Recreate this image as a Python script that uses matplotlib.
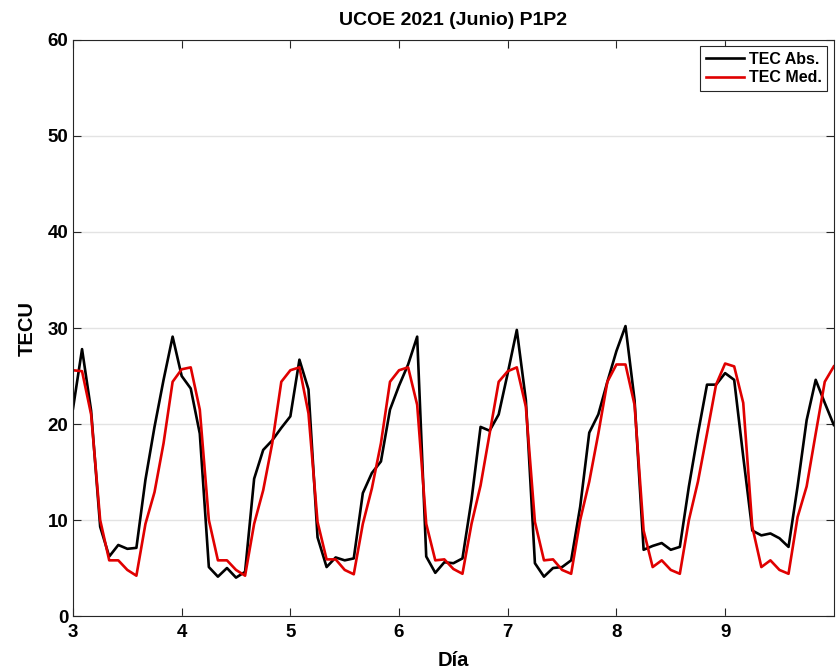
import numpy as np
import matplotlib
matplotlib.use('Agg')
import matplotlib.pyplot as plt

plt.rcParams['font.family'] = ['Liberation Sans', 'DejaVu Sans']
plt.rcParams['font.weight'] = 'bold'

# muestreo cada 2 horas, del día 3 al día 10
dias = np.arange(85) / 12 + 3

tec_abs = [
    21.6, 27.8, 21.4, 9.3, 6.2, 7.4, 7.0, 7.1, 14.2, 19.7, 24.6, 29.1,
    25.0, 23.7, 19.0, 5.1, 4.1, 5.0, 4.0, 4.6, 14.3, 17.3, 18.3, 19.6,
    20.8, 26.7, 23.6, 8.2, 5.1, 6.1, 5.8, 6.0, 12.8, 14.9, 16.1, 21.5,
    24.0, 26.2, 29.1, 6.2, 4.5, 5.6, 5.5, 6.0, 12.1, 19.7, 19.3, 21.0,
    25.3, 29.8, 22.5, 5.5, 4.1, 5.0, 5.1, 5.8, 11.4, 19.1, 21.0, 24.4,
    27.6, 30.2, 22.5, 6.9, 7.3, 7.6, 6.9, 7.2, 13.5, 19.0, 24.1, 24.1,
    25.3, 24.6, 16.6, 8.9, 8.4, 8.6, 8.1, 7.2, 13.5, 20.4, 24.6, 22.2,
    19.9,
]

tec_med = [
    25.6, 25.5, 21.0, 10.0, 5.8, 5.8, 4.8, 4.2, 9.6, 12.9, 18.0, 24.4,
    25.7, 25.9, 21.5, 10.0, 5.8, 5.8, 4.8, 4.2, 9.6, 13.1, 18.0, 24.4,
    25.6, 25.9, 21.1, 9.8, 5.9, 5.9, 4.8, 4.35, 9.6, 13.3, 18.0, 24.4,
    25.6, 25.9, 22.0, 9.6, 5.8, 5.9, 4.9, 4.4, 9.6, 13.6, 19.0, 24.4,
    25.5, 25.9, 21.8, 9.8, 5.8, 5.9, 4.8, 4.4, 10.0, 14.0, 19.0, 24.4,
    26.2, 26.2, 22.0, 8.9, 5.1, 5.8, 4.8, 4.4, 10.0, 14.0, 19.0, 24.1,
    26.3, 26.0, 22.2, 9.3, 5.1, 5.8, 4.8, 4.4, 10.3, 13.5, 19.0, 24.4,
    26.0,
]

fig = plt.figure(figsize=(8.38, 6.72), dpi=100)
ax = fig.add_axes([0.0871, 0.0833, 0.9079, 0.8572])

ax.plot(dias, tec_abs, color='black', linewidth=1.9, label='TEC Abs.')
ax.plot(dias, tec_med, color='#e00000', linewidth=1.9, label='TEC Med.')

ax.set_xlim(3, 10)
ax.set_ylim(0, 60)
ax.set_xticks(range(3, 10))
ax.set_yticks(range(0, 61, 10))
ax.grid(axis='y', color='#e3e3e3', linewidth=1.0)
ax.set_axisbelow(True)

ax.tick_params(direction='in', length=6, width=0.8, top=True, right=True,
               labelsize=13.5, colors='#262626', labelcolor='black')
ax.tick_params(axis='x', pad=6)
for lbl in ax.get_xticklabels() + ax.get_yticklabels():
    lbl.set_fontweight('bold')
for sp in ax.spines.values():
    sp.set_color('#262626')
    sp.set_linewidth(0.8)

ax.set_title('UCOE 2021 (Junio) P1P2', fontsize=14, fontweight='bold', pad=11)
ax.set_xlabel('Día', fontsize=14.5, fontweight='bold', labelpad=7)
ax.set_ylabel('TECU', fontsize=14.5, fontweight='bold', labelpad=8)

leg = ax.legend(loc='upper right', fontsize=11.5, frameon=True, fancybox=False,
                edgecolor='#262626', framealpha=1, handlelength=2.4,
                handletextpad=0.3, borderpad=0.35, labelspacing=0.2,
                borderaxespad=0.4)
leg.get_frame().set_linewidth(0.8)
for t in leg.get_texts():
    t.set_fontweight('bold')

fig.savefig('out.png', dpi=100)
